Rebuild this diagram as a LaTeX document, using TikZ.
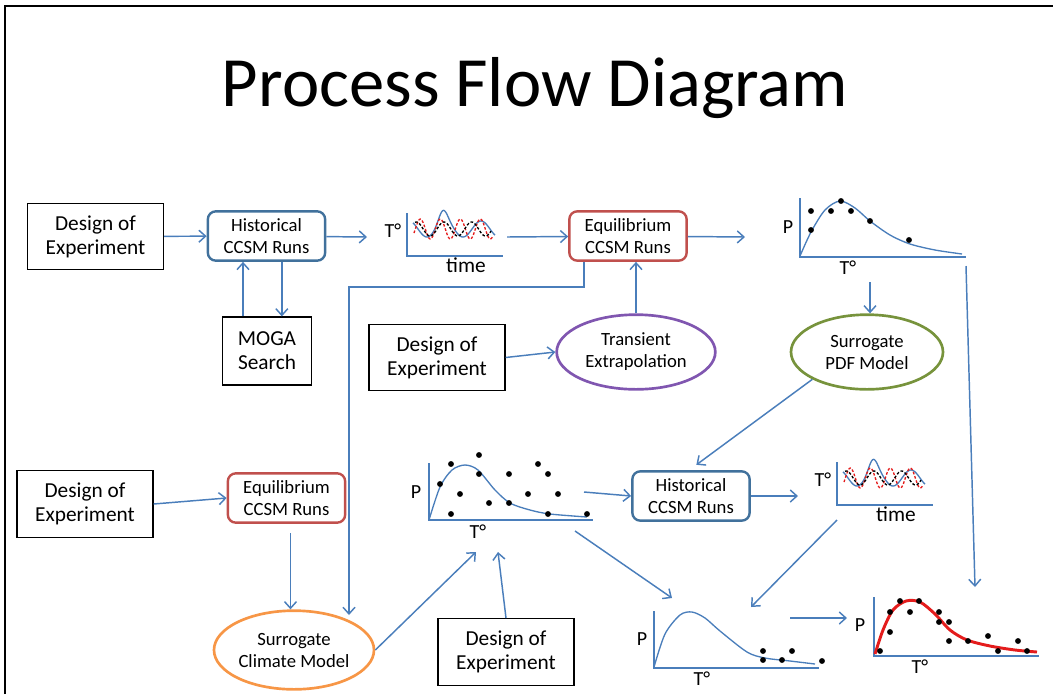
\documentclass[tikz,border=0pt]{standalone}
\usepackage{fontspec}
\setmainfont{Carlito}
\usetikzlibrary{arrows.meta,shapes.geometric}

\definecolor{flowblue}{RGB}{74,126,187}
\definecolor{runblue}{RGB}{65,113,156}
\definecolor{runred}{RGB}{192,80,77}
\definecolor{transpurple}{RGB}{128,86,176}
\definecolor{pdfgreen}{RGB}{119,147,60}
\definecolor{climorange}{RGB}{247,150,70}
\definecolor{fitred}{RGB}{228,28,28}

\begin{document}
\begin{tikzpicture}[x=0.75pt, y=-0.75pt,
  doe/.style = {draw, line width=0.9pt, minimum width=102pt, minimum height=50pt, align=center, font=\fontsize{16}{18}\selectfont},
  run/.style = {draw, rounded corners=6pt, line width=1.8pt, minimum width=88pt, minimum height=37pt, align=center, font=\fontsize{14}{16.5}\selectfont},
  model/.style = {ellipse, draw, line width=2pt, inner sep=0pt, align=center, font=\fontsize{14}{16.5}\selectfont},
  flow/.style = {flowblue, line width=1.1pt, -{Straight Barb[length=5pt, width=9pt]}},
  axis/.style = {flowblue, line width=1.3pt},
  curve/.style = {flowblue, line width=1pt},
  lbl/.style = {inner sep=0pt, font=\fontsize{15}{15}\selectfont}]

\useasboundingbox (0,0) rectangle (1053,694);
\draw[line width=2pt] (5,694) -- (5,6) -- (1053,6);

\node[anchor=base, font=\fontsize{53}{53}\selectfont] (title) at (535,106) {Process Flow Diagram};

% boxes and models
\node[doe] (doe1) at (95.5,236.5) {Design of\\Experiment};
\node[doe] (doe2) at (437,357.5) {Design of\\Experiment};
\node[doe] (doe3) at (85,504) {Design of\\Experiment};
\node[doe] (doe4) at (506,652) {Design of\\Experiment};
\node[doe, minimum width=67pt, minimum height=51pt] (moga) at (267,351) {MOGA\\Search};

\node[run, draw=runblue] (hist1) at (266.5,236) {Historical\\CCSM Runs};
\node[run, draw=runblue] (hist2) at (691,496) {Historical\\CCSM Runs};
\node[run, draw=runred] (eq1) at (628,236) {Equilibrium\\CCSM Runs};
\node[run, draw=runred] (eq2) at (286.5,498) {Equilibrium\\CCSM Runs};

\node[model, draw=transpurple, minimum width=119pt, minimum height=56pt] (trans) at (636,352) {Transient\\Extrapolation};
\node[model, draw=pdfgreen, minimum width=114pt, minimum height=56pt] (spdf) at (867,352) {Surrogate\\PDF Model};
\node[model, draw=climorange, minimum width=120pt, minimum height=59pt] (sclim) at (294,650) {Surrogate\\Climate Model};

% time series plots
\foreach \ox/\oy/\n in {407/256/1, 837/505/2} {
  \draw[axis] (\ox,\oy-43) -- (\ox,\oy) -- (\ox+96,\oy);
  \node[lbl] (tdeg\n) at (\ox-14,\oy-25) {T°};
  \node[lbl, font=\fontsize{16}{16}\selectfont] (time\n) at (\ox+59,\oy+9) {time};
  \draw[curve] plot[domain=6:88, samples=90, smooth] ({\ox+\x}, {\oy-27 + 8*sin(10*\x+250) - 11*exp(-((\x-36)/6)*((\x-36)/6))});
  \draw[fitred, line width=1pt, dash pattern=on 2pt off 1.4pt] plot[domain=7:86, samples=90, smooth] ({\ox+\x}, {\oy-27 + 10*sin(18*\x+30)});
  \draw[black, line width=1pt, dash pattern=on 2pt off 1.4pt] plot[domain=8:84, samples=90, smooth] ({\ox+\x}, {\oy-27 + 7*sin(13*\x+150)});
}

% top pdf plot
\draw[axis] (800,198) -- (800,257) -- (966,257);
\node[lbl] (p1) at (788,227) {P};
\node[lbl] (tdeg3) at (848,268) {T°};
\draw[curve] plot[smooth] coordinates {(800,256) (811,232) (825,210) (840,201) (855,208) (870,221) (890,235) (910,244) (935,250) (962,254)};
\foreach \px/\py in {811/211, 811/230, 831/211, 841/201, 851/211, 870/221, 909/240}
  \fill (\px,\py) circle[radius=2.2pt];

% scatter plot
\draw[axis] (429,463) -- (429,520) -- (593,520);
\node[lbl] (p2) at (416,492) {P};
\node[lbl] (tdeg4) at (478,532) {T°};
\draw[curve] plot[smooth] coordinates {(429,520) (440,487) (452,470) (465,465) (478,470) (495,490) (510,503) (530,510) (550,514) (587,517)};
\foreach \px/\py in {479/455, 451/464, 440/484, 479/474, 460/494, 451/514, 489/503, 509/503, 509/474, 538/464, 548/474, 528/494, 558/494, 548/514, 587/514}
  \fill (\px,\py) circle[radius=2.2pt];

% bottom pdf plot
\draw[axis] (654,611) -- (654,668) -- (819,668);
\node[lbl] (p3) at (642,639) {P};
\node[lbl] (tdeg5) at (702,679) {T°};
\draw[curve] plot[smooth] coordinates {(654,667) (665,634) (680,615) (692,612) (705,618) (720,631) (747,652) (765,658) (790,661) (815,664)};
\foreach \px/\py in {763/651, 763/660, 782/660, 792/651, 822/661}
  \fill (\px,\py) circle[radius=2.2pt];

% fitted pdf plot
\draw[axis] (874,597) -- (874,656) -- (1039,656);
\node[lbl] (p4) at (860,625) {P};
\node[lbl] (tdeg6) at (920,667) {T°};
\draw[fitred, line width=2.2pt] plot[smooth] coordinates {(875,654) (883,630) (893,610) (906,601) (920,602) (935,614) (950,630) (967,640) (990,646) (1015,650) (1037,652)};
\foreach \px/\py in {880/651, 890/632, 890/612, 900/601, 910/612, 919/601, 939/612, 939/622, 949/622, 949/641, 968/641, 988/636, 998/651, 1018/641, 1027/651}
  \fill (\px,\py) circle[radius=2.2pt];

% connector ends at the plots
\coordinate (tp1in) at (367,237);
\coordinate (tp1out) at (507,237);
\coordinate (pdf1in) at (745,237);
\coordinate (pdf1b) at (870,282);
\coordinate (pdf1r) at (966,266);
\coordinate (fitin) at (975,587);
\coordinate (elbow) at (584,287);
\coordinate (bend) at (349,287);
\coordinate (sctop) at (349,615);
\coordinate (scin1) at (476,552);
\coordinate (scin2) at (498,552);
\coordinate (scout1) at (584,492);
\coordinate (scout2) at (575,531);
\coordinate (pdf2in1) at (672,598);
\coordinate (tp2in) at (798,496);
\coordinate (tp2out) at (837,520);
\coordinate (pdf2in2) at (751,607);
\coordinate (pdf2out) at (790,618);
\coordinate (fitin2) at (847,618);

% connectors
\draw[flow] (doe1) -- (hist1);
\draw[flow] (hist1) -- (tp1in);
\draw[flow] ([xshift=-18pt]moga.north) -- ([xshift=-18pt]moga.north |- hist1.south);
\draw[flow] ([xshift=11.5pt]hist1.south) -- ([xshift=11.5pt]hist1.south |- moga.north);
\draw[flow] (tp1out) -- (eq1);
\draw[flow] (eq1) -- (pdf1in);
\draw[flow] (eq1.south -| elbow) -- (elbow) -- (bend) -- (sctop);
\draw[flow] (trans.north) -- (trans.north |- eq1.south);
\draw[flow] (doe2.east) -- (trans.west);
\draw[flow] (pdf1b) -- (pdf1b |- spdf.north);
\draw[flow] (pdf1r) -- (fitin);
\draw[flow] (spdf.south west) -- ([xshift=4pt, yshift=4pt]hist2.north);
\draw[flow] (doe3.east) -- (eq2.west);
\draw[flow] ([xshift=3pt, yshift=-7pt]eq2.south) -- ([xshift=3pt]eq2.south |- sclim.north);
\draw[flow] (sclim.east) -- (scin1);
\draw[flow] (doe4.north) -- (scin2);
\draw[flow] (scout1) -- (hist2.west);
\draw[flow] (hist2.east) -- (tp2in);
\draw[flow] (scout2) -- (pdf2in1);
\draw[flow] (tp2out) -- (pdf2in2);
\draw[flow] (pdf2out) -- (fitin2);

\end{tikzpicture}
\end{document}
